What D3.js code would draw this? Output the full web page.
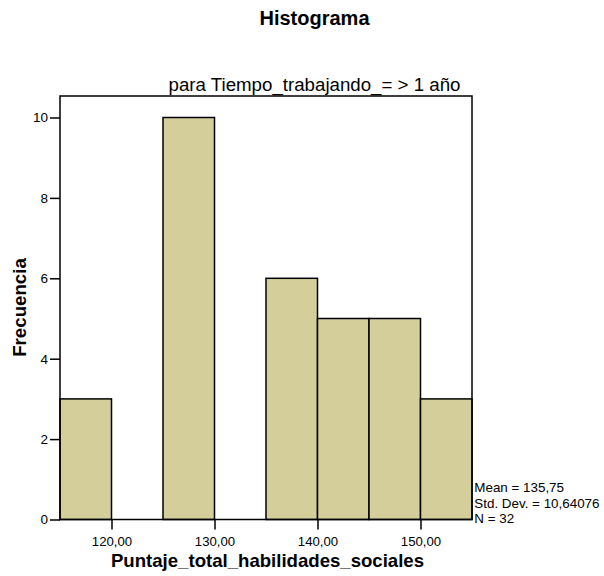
<!DOCTYPE html>
<html><head><meta charset="utf-8">
<script src="https://cdn.jsdelivr.net/npm/d3@7"></script>
<style>body{margin:0;background:#fff}svg{display:block}text{font-family:Arial,"Liberation Sans",sans-serif;fill:#000}</style>
</head><body><div id="chart"></div>
<script>
const binStarts = [115,120,125,130,135,140,145,150];
const binWidth = 5;
const counts = [3,0,10,0,6,5,5,3];
const xTicks = [120,130,140,150];
const yTicks = [0,2,4,6,8,10];
const title = "Histograma";
const subtitle = "para Tiempo_trabajando_= > 1 año";
const xLabel = "Puntaje_total_habilidades_sociales";
const yLabel = "Frecuencia";
const stats = ["Mean = 135,75","Std. Dev. = 10,64076","N = 32"];

const W=604,H=576;
const m={left:60,right:472,top:96,bottom:519.5};
const svg=d3.select("#chart").append("svg").attr("width",W).attr("height",H);
const x=d3.scaleLinear().domain([115,155]).range([m.left,m.right]);
const y=d3.scaleLinear().domain([0,10]).range([m.bottom,117.5]);

svg.append("text").attr("x",314.5).attr("y",24.5).attr("text-anchor","middle")
  .style("font-weight","bold").style("font-size","20px").text(title);
svg.append("text").attr("x",314.5).attr("y",91).attr("text-anchor","middle")
  .style("font-size","18.7px").text(subtitle);

svg.append("g").selectAll("rect").data(binStarts.map((s,i)=>({s,c:counts[i]})).filter(d=>d.c>0))
  .join("rect").attr("x",d=>x(d.s)).attr("y",d=>y(d.c))
  .attr("width",d=>x(d.s+binWidth)-x(d.s)).attr("height",d=>y(0)-y(d.c))
  .attr("fill","#d3ce9a").attr("stroke","#000").attr("stroke-width",1.5);

svg.append("rect").attr("x",m.left).attr("y",m.top).attr("width",m.right-m.left).attr("height",m.bottom-m.top)
  .attr("fill","none").attr("stroke","#000").attr("stroke-width",1.5);

const fmt=d=>d.toFixed(2).replace(".",",");
const xa=svg.append("g").attr("transform",`translate(0,${m.bottom})`)
  .call(d3.axisBottom(x).tickValues(xTicks).tickFormat(fmt).tickSize(10).tickSizeOuter(0));
xa.select(".domain").remove();
xa.selectAll("line").attr("stroke-width",1.5);
xa.selectAll("text").style("font-size","13.2px").attr("dy",null).attr("y",26.5);

const ya=svg.append("g").attr("transform",`translate(${m.left},0)`)
  .call(d3.axisLeft(y).tickValues(yTicks).tickSize(10).tickSizeOuter(0));
ya.select(".domain").remove();
ya.selectAll("line").attr("stroke-width",1.5);
ya.selectAll("text").style("font-size","13.5px").attr("x",-12);

svg.append("text").attr("x",267.5).attr("y",567).attr("text-anchor","middle")
  .style("font-weight","bold").style("font-size","18.6px").text(xLabel);
svg.append("text").attr("transform","translate(25.5,307.5) rotate(-90)").attr("text-anchor","middle")
  .style("font-weight","bold").style("font-size","18.7px").text(yLabel);

svg.append("g").selectAll("text").data(stats).join("text")
  .attr("x",474.3).attr("y",(d,i)=>492+i*15.5).style("font-size","13.4px").text(d=>d);
</script></body></html>
